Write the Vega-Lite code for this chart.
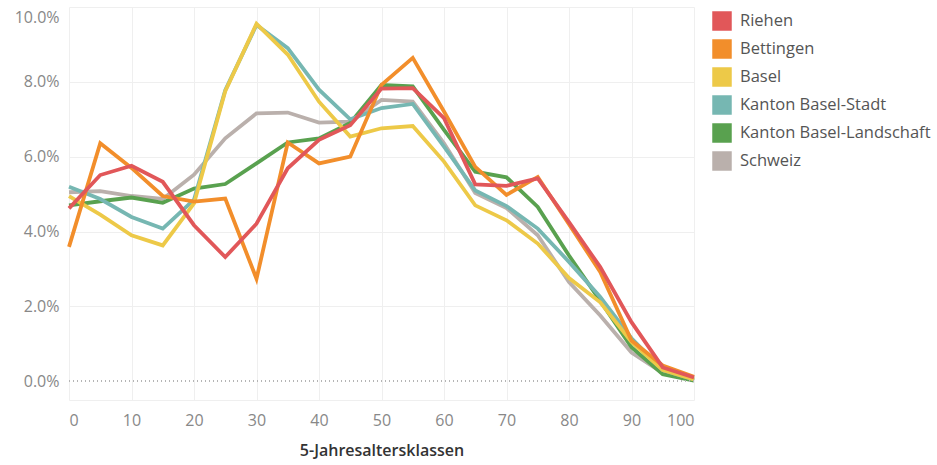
{
  "$schema": "https://vega.github.io/schema/vega-lite/v6.json",
  "width": 625,
  "height": 393,
  "autosize": "none",
  "padding": {"left": 69, "top": 7, "right": 243, "bottom": 65},
  "config": {
    "font": "Open Sans",
    "view": {"stroke": null},
    "axis": {"labelFont": "Open Sans", "labelFontSize": 16, "labelColor": "#888888", "gridColor": "#efefef", "ticks": false}
  },
  "data": {
    "values": [
      {"age":0,"region":"Schweiz","value":5.05},{"age":5,"region":"Schweiz","value":5.08},{"age":10,"region":"Schweiz","value":4.95},{"age":15,"region":"Schweiz","value":4.87},{"age":20,"region":"Schweiz","value":5.52},{"age":25,"region":"Schweiz","value":6.49},{"age":30,"region":"Schweiz","value":7.16},{"age":35,"region":"Schweiz","value":7.18},{"age":40,"region":"Schweiz","value":6.91},{"age":45,"region":"Schweiz","value":6.94},{"age":50,"region":"Schweiz","value":7.52},{"age":55,"region":"Schweiz","value":7.47},{"age":60,"region":"Schweiz","value":6.36},{"age":65,"region":"Schweiz","value":5.03},{"age":70,"region":"Schweiz","value":4.63},{"age":75,"region":"Schweiz","value":3.9},{"age":80,"region":"Schweiz","value":2.65},{"age":85,"region":"Schweiz","value":1.76},{"age":90,"region":"Schweiz","value":0.77},{"age":95,"region":"Schweiz","value":0.22},{"age":100,"region":"Schweiz","value":0.03},
      {"age":0,"region":"Kanton Basel-Landschaft","value":4.7},{"age":5,"region":"Kanton Basel-Landschaft","value":4.81},{"age":10,"region":"Kanton Basel-Landschaft","value":4.91},{"age":15,"region":"Kanton Basel-Landschaft","value":4.77},{"age":20,"region":"Kanton Basel-Landschaft","value":5.15},{"age":25,"region":"Kanton Basel-Landschaft","value":5.27},{"age":30,"region":"Kanton Basel-Landschaft","value":5.82},{"age":35,"region":"Kanton Basel-Landschaft","value":6.38},{"age":40,"region":"Kanton Basel-Landschaft","value":6.49},{"age":45,"region":"Kanton Basel-Landschaft","value":6.9},{"age":50,"region":"Kanton Basel-Landschaft","value":7.92},{"age":55,"region":"Kanton Basel-Landschaft","value":7.88},{"age":60,"region":"Kanton Basel-Landschaft","value":6.72},{"age":65,"region":"Kanton Basel-Landschaft","value":5.6},{"age":70,"region":"Kanton Basel-Landschaft","value":5.45},{"age":75,"region":"Kanton Basel-Landschaft","value":4.66},{"age":80,"region":"Kanton Basel-Landschaft","value":3.36},{"age":85,"region":"Kanton Basel-Landschaft","value":2.15},{"age":90,"region":"Kanton Basel-Landschaft","value":0.91},{"age":95,"region":"Kanton Basel-Landschaft","value":0.19},{"age":100,"region":"Kanton Basel-Landschaft","value":0.02},
      {"age":0,"region":"Kanton Basel-Stadt","value":5.2},{"age":5,"region":"Kanton Basel-Stadt","value":4.87},{"age":10,"region":"Kanton Basel-Stadt","value":4.39},{"age":15,"region":"Kanton Basel-Stadt","value":4.08},{"age":20,"region":"Kanton Basel-Stadt","value":4.85},{"age":25,"region":"Kanton Basel-Stadt","value":7.78},{"age":30,"region":"Kanton Basel-Stadt","value":9.52},{"age":35,"region":"Kanton Basel-Stadt","value":8.9},{"age":40,"region":"Kanton Basel-Stadt","value":7.79},{"age":45,"region":"Kanton Basel-Stadt","value":7.0},{"age":50,"region":"Kanton Basel-Stadt","value":7.3},{"age":55,"region":"Kanton Basel-Stadt","value":7.41},{"age":60,"region":"Kanton Basel-Stadt","value":6.27},{"age":65,"region":"Kanton Basel-Stadt","value":5.1},{"age":70,"region":"Kanton Basel-Stadt","value":4.68},{"age":75,"region":"Kanton Basel-Stadt","value":4.08},{"age":80,"region":"Kanton Basel-Stadt","value":3.19},{"age":85,"region":"Kanton Basel-Stadt","value":2.25},{"age":90,"region":"Kanton Basel-Stadt","value":1.15},{"age":95,"region":"Kanton Basel-Stadt","value":0.3},{"age":100,"region":"Kanton Basel-Stadt","value":0.05},
      {"age":0,"region":"Basel","value":4.95},{"age":5,"region":"Basel","value":4.45},{"age":10,"region":"Basel","value":3.9},{"age":15,"region":"Basel","value":3.63},{"age":20,"region":"Basel","value":4.75},{"age":25,"region":"Basel","value":7.75},{"age":30,"region":"Basel","value":9.55},{"age":35,"region":"Basel","value":8.73},{"age":40,"region":"Basel","value":7.47},{"age":45,"region":"Basel","value":6.54},{"age":50,"region":"Basel","value":6.76},{"age":55,"region":"Basel","value":6.82},{"age":60,"region":"Basel","value":5.87},{"age":65,"region":"Basel","value":4.7},{"age":70,"region":"Basel","value":4.3},{"age":75,"region":"Basel","value":3.68},{"age":80,"region":"Basel","value":2.76},{"age":85,"region":"Basel","value":2.11},{"age":90,"region":"Basel","value":1.05},{"age":95,"region":"Basel","value":0.3},{"age":100,"region":"Basel","value":0.05},
      {"age":0,"region":"Bettingen","value":3.59},{"age":5,"region":"Bettingen","value":6.36},{"age":10,"region":"Bettingen","value":5.7},{"age":15,"region":"Bettingen","value":4.95},{"age":20,"region":"Bettingen","value":4.8},{"age":25,"region":"Bettingen","value":4.88},{"age":30,"region":"Bettingen","value":2.74},{"age":35,"region":"Bettingen","value":6.38},{"age":40,"region":"Bettingen","value":5.82},{"age":45,"region":"Bettingen","value":6.0},{"age":50,"region":"Bettingen","value":7.92},{"age":55,"region":"Bettingen","value":8.64},{"age":60,"region":"Bettingen","value":7.21},{"age":65,"region":"Bettingen","value":5.73},{"age":70,"region":"Bettingen","value":4.98},{"age":75,"region":"Bettingen","value":5.46},{"age":80,"region":"Bettingen","value":4.2},{"age":85,"region":"Bettingen","value":2.92},{"age":90,"region":"Bettingen","value":1.09},{"age":95,"region":"Bettingen","value":0.42},{"age":100,"region":"Bettingen","value":0.12},
      {"age":0,"region":"Riehen","value":4.62},{"age":5,"region":"Riehen","value":5.51},{"age":10,"region":"Riehen","value":5.76},{"age":15,"region":"Riehen","value":5.33},{"age":20,"region":"Riehen","value":4.17},{"age":25,"region":"Riehen","value":3.32},{"age":30,"region":"Riehen","value":4.21},{"age":35,"region":"Riehen","value":5.69},{"age":40,"region":"Riehen","value":6.45},{"age":45,"region":"Riehen","value":6.84},{"age":50,"region":"Riehen","value":7.82},{"age":55,"region":"Riehen","value":7.83},{"age":60,"region":"Riehen","value":7.03},{"age":65,"region":"Riehen","value":5.26},{"age":70,"region":"Riehen","value":5.22},{"age":75,"region":"Riehen","value":5.42},{"age":80,"region":"Riehen","value":4.25},{"age":85,"region":"Riehen","value":3.05},{"age":90,"region":"Riehen","value":1.58},{"age":95,"region":"Riehen","value":0.37},{"age":100,"region":"Riehen","value":0.1}
    ]
  },
  "layer": [
    {
      "mark": {"type": "line", "strokeWidth": 3.8},
      "encoding": {
        "x": {
          "field": "age", "type": "quantitative",
          "scale": {"domain": [0, 100], "nice": false, "zero": false},
          "axis": {
            "values": [0,10,20,30,40,50,60,70,80,90,100],
            "title": "5-Jahresaltersklassen",
            "titleFont": "Open Sans", "titleFontSize": 16, "titleFontWeight": 600, "titleColor": "#333333",
            "titlePadding": 14,
            "labelFlush": true, "labelPadding": 12,
            "domain": true, "domainColor": "#efefef"
          }
        },
        "y": {
          "field": "value", "type": "quantitative",
          "scale": {"domain": [-0.5, 10], "nice": false, "zero": false},
          "axis": {
            "values": [0,2,4,6,8,10],
            "title": null,
            "labelExpr": "format(datum.value, '.1f') + '%'",
            "labelFlush": true, "labelFlushOffset": -2, "labelPadding": 10,
            "domain": false,
            "gridColor": {"condition": {"test": "datum.value === 0", "value": "transparent"}, "value": "#efefef"}
          }
        },
        "color": {
          "field": "region", "type": "nominal",
          "scale": {
            "domain": ["Riehen", "Bettingen", "Basel", "Kanton Basel-Stadt", "Kanton Basel-Landschaft", "Schweiz"],
            "range": ["#e15759", "#f28e2b", "#edc948", "#76b7b2", "#59a14f", "#bab0ac"]
          },
          "legend": {
            "title": null,
            "orient": "none",
            "legendX": 643,
            "legendY": 4,
            "symbolType": "square",
            "symbolSize": 380,
            "symbolStrokeWidth": 0,
            "labelFont": "Open Sans",
            "labelFontSize": 16.5,
            "labelColor": "#555555",
            "labelOffset": 8,
            "rowPadding": 8,
            "labelLimit": 300,
            "encode": {
              "symbols": {"update": {"fill": {"scale": "color", "field": "value"}, "fillOpacity": {"value": 1}, "strokeWidth": {"value": 0}}}
            }
          }
        }
      }
    },
    {
      "mark": {"type": "rule", "strokeDash": [1, 3], "color": "#b5b5b5", "strokeWidth": 1},
      "encoding": {"y": {"datum": 0}}
    }
  ]
}
